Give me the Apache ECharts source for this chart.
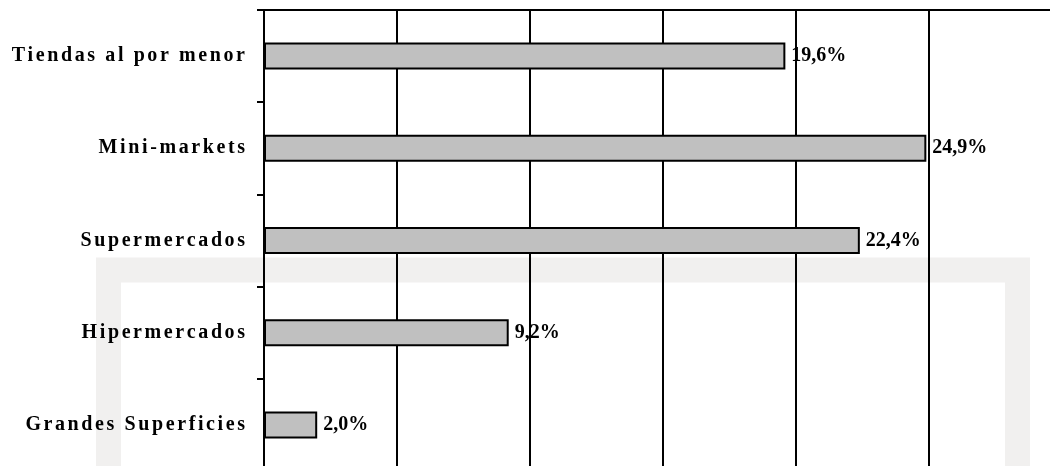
<!DOCTYPE html>
<html>
<head>
<meta charset="utf-8">
<script src="https://cdn.jsdelivr.net/npm/echarts@6/dist/echarts.min.js"></script>
<style>
  html, body { margin: 0; padding: 0; background: #fff; }
  #chart { width: 1050px; height: 466px; }
</style>
</head>
<body>
<div id="chart"></div>
<script>
// datos del gráfico
const categories = ['Tiendas al por menor', 'Mini-markets', 'Supermercados', 'Hipermercados', 'Grandes Superficies']
const shares = [19.6, 24.9, 22.4, 9.2, 2.0]

// espaciado entre letras (como en el original)
const spaced = (s) => s.split('').join('{s|\u2009}')

const chart = echarts.init(document.getElementById('chart'))

const option = {
  animation: false,
  backgroundColor: '#fff',
  graphic: [
    {
      // marca de agua gris claro
      type: 'rect',
      z: -10,
      silent: true,
      shape: { x: 108.5, y: 270, width: 909, height: 320 },
      style: { fill: 'transparent', stroke: '#f1f0ef', lineWidth: 25 }
    }
  ],
  grid: {
    left: 264,
    width: 798,
    top: 10,
    height: 461,
    outerBoundsMode: 'none'
  },
  xAxis: {
    type: 'value',
    position: 'top',
    min: 0,
    max: 30,
    interval: 5,
    axisLabel: { show: false },
    axisTick: { show: false },
    axisLine: { show: true, lineStyle: { color: '#000', width: 2 } },
    splitLine: { show: true, lineStyle: { color: '#000', width: 2 } }
  },
  yAxis: {
    type: 'category',
    inverse: true,
    data: categories,
    axisLine: { show: true, lineStyle: { color: '#000', width: 2 } },
    axisTick: { show: true, length: 7, lineStyle: { color: '#000', width: 2 } },
    axisLabel: {
      color: '#000',
      fontFamily: 'Liberation Serif',
      fontWeight: 'bold',
      fontSize: 20,
      margin: 19,
      formatter: (v) => spaced(v),
      rich: {
        s: { fontFamily: 'Liberation Serif', fontSize: 13 }
      }
    }
  },
  series: [
    {
      type: 'bar',
      data: shares,
      barWidth: 27,
      itemStyle: { color: '#c0c0c0', borderColor: '#000', borderWidth: 2 },
      label: {
        show: true,
        position: 'right',
        distance: 6,
        color: '#000',
        fontFamily: 'Liberation Serif',
        fontWeight: 'bold',
        fontSize: 20,
        formatter: (p) => p.value.toFixed(1).replace('.', ',') + '%'
      }
    }
  ]
}

chart.setOption(option)
</script>
</body>
</html>
